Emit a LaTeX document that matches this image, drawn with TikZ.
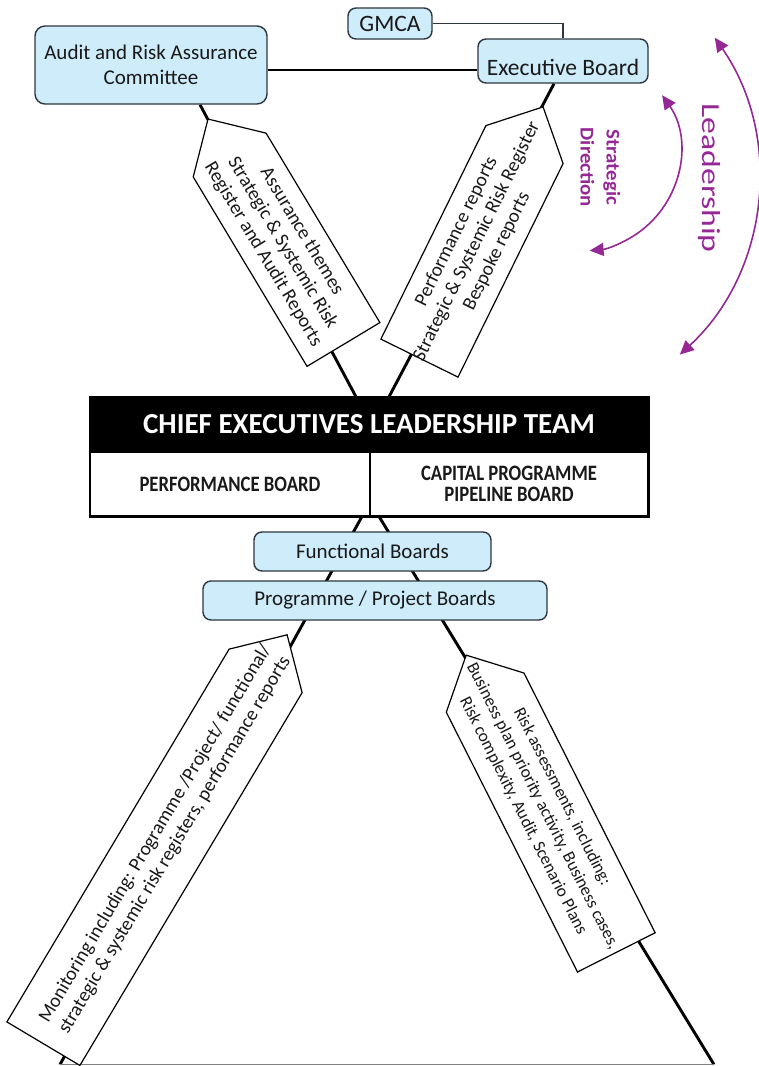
\documentclass[tikz,border=0pt]{standalone}
\usepackage{fontspec}
\setmainfont{Carlito}
\usetikzlibrary{arrows.meta,calc}
\definecolor{boxfill}{RGB}{206,236,250}
\definecolor{boxline}{RGB}{45,55,65}
\definecolor{purp}{RGB}{150,40,150}
\definecolor{txt}{RGB}{25,25,25}
\pgfdeclarelayer{bg}
\pgfsetlayers{bg,main}
\begin{document}
\begin{tikzpicture}[x=1pt,y=-1pt,
  box/.style={draw=boxline, line width=1.4pt, fill=boxfill, rounded corners=8pt,
    inner sep=0pt, text=txt, font=\fontsize{21}{25}\selectfont, align=center},
  conn/.style={line width=2.9pt, black},
  penta/.style={draw=black, line width=1.2pt, fill=white},
  ptext/.style={inner sep=0pt, align=center, text=txt, font=\fontsize{19.5}{22.5}\selectfont},
  cell/.style={draw=black, line width=1.6pt, fill=white, inner sep=0pt, align=center,
    text=txt, font=\bfseries\fontsize{22}{21}\selectfont},
  purparrow/.style={draw=purp, line width=1.6pt,
    {Triangle[length=14pt,width=13pt]}-{Triangle[length=14pt,width=13pt]}},
]
\path[use as bounding box] (0,0) rectangle (759,1066);

% boxes
\node[box, minimum width=84pt, minimum height=31pt, font=\fontsize{23.5}{27}\selectfont] (gmca) at (390,23.5) {GMCA};
\node[box, rounded corners=10pt, minimum width=232pt, minimum height=78pt] (audit) at (151,65)
  {Audit and Risk Assurance\\Committee};
\node[box, minimum width=170pt, minimum height=44pt, text height=29pt, text depth=0pt,
  font=\fontsize{23.5}{27}\selectfont] (exec) at (563,61) {Executive Board};

\node[fill=black, minimum width=558pt, minimum height=55pt, inner sep=0pt, text=white,
  font=\bfseries\fontsize{29}{33}\selectfont] (celt) at (369,424.5) {CHIEF EXECUTIVES LEADERSHIP TEAM};
\node[cell, minimum width=280pt, minimum height=64pt] (perf) at (230,484)
  {\scalebox{0.85}[1]{PERFORMANCE BOARD}};
\node[cell, minimum width=278pt, minimum height=64pt] (cappl) at (509,484)
  {\scalebox{0.85}[1]{CAPITAL PROGRAMME}\\\scalebox{0.85}[1]{PIPELINE BOARD}};
\draw[line width=2pt] (celt.north west) rectangle (cappl.south east);

\node[box, minimum width=237pt, minimum height=39pt] (func) at (372.5,551.5) {Functional Boards};
\node[box, minimum width=344pt, minimum height=39pt] (prog) at (375,600.5) {Programme / Project Boards};

% connectors
\coordinate (bl) at (60,1064.5);
\coordinate (br) at (714,1064.5);
\begin{pgfonlayer}{bg}
\fill[white] (0,0) rectangle (759,1066);
\draw[conn] ([yshift=-5pt]audit.east) -- ([yshift=-5pt]audit.east -| exec.west);
\draw[line width=1.8pt, boxline] (gmca.east) -| (exec.north);
\draw[conn] ([xshift=49pt]audit.south) -- ([xshift=-13pt]celt.north);
\draw[conn] ([xshift=-9pt]exec.south) -- ([xshift=20pt]celt.north);
\draw[conn] ([xshift=-9pt]perf.south east) -- (bl);
\draw[conn] ([xshift=10pt]cappl.south west) -- (br);
\draw[gray, line width=1.2pt] (bl) -- (br);
\end{pgfonlayer}

% pentagon labels
\begin{scope}[shift={(275.75,231.75)}, rotate=-59]
\draw[penta] (-131.5,0) -- (-89.5,42.5) -- (131.5,42.5) -- (131.5,-42.5) -- (-89.5,-42.5) -- cycle;
\node[ptext, rotate=-59] (ul) at (13,0)
  {Assurance themes\\Strategic \& Systemic Risk\\Register and Audit Reports};
\end{scope}

\begin{scope}[shift={(481.25,232.5)}, rotate=63.8]
\draw[penta] (140,0) -- (98,43) -- (-140,43) -- (-140,-43) -- (98,-43) -- cycle;
\node[ptext, rotate=63.8] (ur) at (-10,0)
  {Performance reports\\Strategic \& Systemic Risk Register\\Bespoke reports};
\end{scope}

\begin{scope}[shift={(165.25,839.25)}, rotate=59.2]
\draw[penta] (238,0) -- (196,42.5) -- (-238,42.5) -- (-238,-42.5) -- (196,-42.5) -- cycle;
\node[ptext, rotate=59.2] (ll) at (0,0)
  {Monitoring including: Programme /Project/ functional/\\strategic \& systemic risk registers, performance reports};
\end{scope}

\begin{scope}[shift={(541.25,803.75)}, rotate=-63.2]
\draw[penta] (-166.5,0) -- (-124.5,43.5) -- (166.5,43.5) -- (166.5,-43.5) -- (-124.5,-43.5) -- cycle;
\node[ptext, font=\fontsize{17.3}{21.8}\selectfont, rotate=-63.2] (lr) at (3,0)
  {Risk assessments, including:\\Business plan priority activity, Business cases,\\Risk complexity, Audit, Scenario Plans};
\end{scope}

% purple arrows and labels
\coordinate (sdA) at (662.1,95.2);
\coordinate (ldA) at (714.8,37.7);
\draw[purparrow] (sdA) arc[start angle=-35, end angle=85, radius=99];
\draw[purparrow] (ldA) arc[start angle=-34.7, end angle=47.3, radius=243];
\node[rotate=-90, text=purp, inner sep=0pt, font=\fontsize{26}{30}\selectfont] (lead) at (709,178)
  {\scalebox{1.3}[1]{Leadership}};
\node[rotate=-90, text=purp, inner sep=0pt, align=center, font=\bfseries\fontsize{19.5}{26}\selectfont]
  (sdir) at (600.5,167.5) {\scalebox{1.07}[1]{Strategic}\\\scalebox{1.07}[1]{Direction}};
\end{tikzpicture}
\end{document}
